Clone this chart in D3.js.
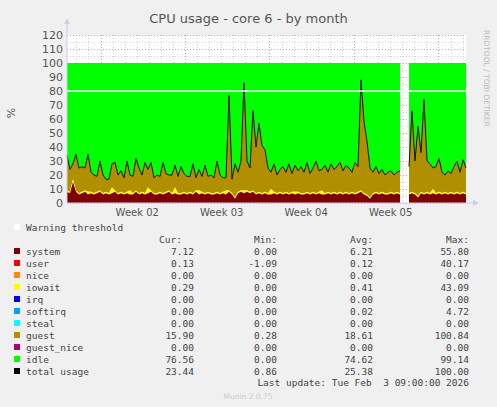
<!DOCTYPE html>
<html><head><meta charset="utf-8">
<script src="https://d3js.org/d3.v7.min.js"></script>
<style>body{margin:0;background:#f0f0f0}svg{display:block}</style>
</head><body>
<script>
const total = [34,24,28,35,25,26,25,35,22,20, 19,30,20,17,17,28,29,20,23,18, 30,20,19,32,25,20,29,24,29,18,
 20,19,29,21,20,20,27,19,26,21, 19,19,28,18,24,19,27,19,20,18, 30,20,18,18,77,17,28,22,30,86,
 30,25,66,40,57,41,38,25,22,28, 20,24,26,22,28,21,27,23,26,22, 29,21,25,30,23,24,27,22,28,24,
 26,29,23,27,25,22,29,26,88,58, 44,25,22,26,21,24,20,22,23,20, 22,23,null,null,26,66,30,55,36,74,
 30,28,25,26,32,22,20,23,21,26, 30,22,31,25];
const system = [8,7,15,8,6,7,8,6,7,6, 7,8,6,7,6,7,8,6,7,6, 7,6,6,8,6,7,6,7,8,6, 6,7,6,7,8,6,7,6,6,7,
 6,7,6,8,6,7,6,7,6,6, 7,6,7,6,8,6,3,7,8,7, 8,7,8,6,7,6,7,6,6,7, 6,7,6,7,6,7,6,7,6,6,
 7,6,7,6,7,6,6,7,6,7, 6,7,6,7,6,7,6,7,8,6, 5,3,6,7,6,7,6,6,7,6, 7,6,null,null,6,7,6,4,7,6,
 7,6,7,6,7,6,7,6,7,6, 7,6,7,6];
const iowait = [1,1,2,1,1,1,1,2,1,1, 1,1,1,1,1,4,1,1,1,1, 1,3,1,1,1,1,1,4,1,1, 1,1,1,1,1,1,4,1,1,1,
 1,1,1,1,3,1,1,1,1,1, 1,1,1,3,1,1,1,1,1,2, 1,1,1,1,1,1,1,1,4,1, 1,1,1,1,1,1,2,1,1,1,
 1,1,1,1,1,3,1,1,1,1, 1,1,1,1,1,1,1,1,1,1, 1,1,1,1,1,1,1,1,1,1, 1,1,null,null,1,1,1,1,1,1,
 1,1,3,1,1,1,1,1,1,1, 1,1,1,1];
const yTicks = [0,10,20,30,40,50,60,70,80,90,100,110,120];
const weekLabels = ["Week 02","Week 03","Week 04","Week 05"];
const legendNames = ["system","user","nice","iowait","irq","softirq","steal","guest","guest_nice","idle","total usage"];
const legendColors = ["#7e0000","#ff0000","#ff8c00","#ffff00","#0000ff","#00a0ff","#00ffff","#b09000","#b00070","#00ff00","#000000"];
const curVals = ["7.12","0.13","0.00","0.29","0.00","0.00","0.00","15.90","0.00","76.56","23.44"];
const minVals = ["0.00","-1.09","0.00","0.00","0.00","0.00","0.00","0.28","0.00","0.00","0.86"];
const avgVals = ["6.21","0.12","0.00","0.41","0.00","0.02","0.00","18.61","0.00","74.62","25.38"];
const maxVals = ["55.80","40.17","0.00","43.09","0.00","4.72","0.00","100.84","0.00","99.14","100.00"];

const W=497,H=407, L=67,R=466,T=35,B=203;
const svg=d3.select("body").append("svg").attr("width",W).attr("height",H);
svg.append("rect").attr("width",W).attr("height",H).attr("fill","#f0f0f0");
const t0=new Date(2026,0,2,4,20), t1=new Date(2026,1,4,5,45);
const x=d3.scaleTime().domain([t0,t1]).range([L,R]);
const y=d3.scaleLinear().domain([0,120]).range([B,T]);
const step=(t1-t0)/(total.length-1);
const data=total.map((v,i)=>({t:new Date(+t0+i*step),tot:v,sys:system[i],io:iowait[i]}));
svg.append("rect").attr("x",L).attr("y",T).attr("width",R-L).attr("height",B-T).attr("fill","#fff");
const days=d3.timeDay.range(d3.timeDay.ceil(t0),t1);
days.forEach(d=>{const mj=d.getDay()===1;svg.append("line").attr("x1",x(d)).attr("x2",x(d)).attr("y1",T).attr("y2",B)
 .attr("stroke",mj?"#e0a0a0":"#d0d0d0").attr("stroke-dasharray","1,2").attr("shape-rendering","crispEdges");});
d3.range(0,121,5).forEach(v=>{svg.append("line").attr("x1",L).attr("x2",R).attr("y1",y(v)).attr("y2",y(v))
 .attr("stroke",v%10===0?"#e0a0a0":"#d0d0d0").attr("stroke-dasharray","1,2").attr("shape-rendering","crispEdges");});
const def=d=>d.tot!==null;
const area=(lo,hi)=>d3.area().defined(def).x(d=>x(d.t)).y0(d=>y(lo(d))).y1(d=>y(hi(d)));
svg.append("path").datum(data).attr("fill","#00ff00").attr("d",area(d=>d.tot,d=>100));
svg.append("path").datum(data).attr("fill","#b09000").attr("d",area(d=>d.sys+d.io,d=>d.tot));
svg.append("path").datum(data).attr("fill","#ffff00").attr("d",area(d=>d.sys,d=>d.sys+d.io));
svg.append("path").datum(data).attr("fill","#7e0000").attr("d",area(d=>0,d=>d.sys));
svg.append("path").datum(data).attr("fill","none").attr("stroke","#000").attr("stroke-width",0.9)
 .attr("d",d3.line().defined(def).x(d=>x(d.t)).y(d=>y(d.tot)));
svg.append("line").attr("x1",L).attr("x2",R).attr("y1",y(80)).attr("y2",y(80)).attr("stroke","#fff").attr("stroke-width",1.5);
svg.append("line").attr("x1",L).attr("x2",L).attr("y1",B).attr("y2",T-12).attr("stroke","#c8d0f0");
svg.append("path").attr("d",`M${L-3},${T-11}L${L},${T-17}L${L+3},${T-11}Z`).attr("fill","#c8d0f0");
svg.append("line").attr("x1",L).attr("x2",R+8).attr("y1",B).attr("y2",B).attr("stroke","#c8d0f0");
svg.append("path").attr("d",`M${R+7},${B-3}L${R+13},${B}L${R+7},${B+3}Z`).attr("fill","#c8d0f0");
const ax=svg.append("g").attr("font-family","DejaVu Sans").attr("font-size",11).attr("fill","#555");
yTicks.forEach(v=>ax.append("text").attr("x",L-4).attr("y",y(v)+4).attr("text-anchor","end").text(v));
const mondays=d3.timeMonday.range(t0,t1).slice(0,4);
weekLabels.forEach((w,i)=>ax.append("text").attr("x",x(d3.timeDay.offset(mondays[i],3.5))).attr("y",B+13).attr("text-anchor","middle").attr("font-size",10).text(w));
svg.append("text").attr("x",W/2).attr("y",23).attr("text-anchor","middle").attr("font-family","DejaVu Sans").attr("font-size",13).attr("fill","#555").text("CPU usage - core 6 - by month");
svg.append("text").attr("transform","translate(15,113) rotate(-90)").attr("text-anchor","middle").attr("font-family","DejaVu Sans").attr("font-size",11).attr("fill","#555").text("%");
svg.append("text").attr("transform","translate(484,30) rotate(90)").attr("font-family","DejaVu Sans").attr("font-size",7.5).attr("fill","#bbb").text("RRDTOOL / TOBI OETIKER");
const lg=svg.append("g").attr("font-family","DejaVu Sans Mono").attr("font-size",9.5).attr("fill","#444");
lg.append("rect").attr("x",14).attr("y",224).attr("width",6).attr("height",6).attr("fill","#fff");
lg.append("text").attr("x",26).attr("y",231).text("Warning threshold");
[["Cur:",182],["Min:",277],["Avg:",373],["Max:",469]].forEach(([s,xx])=>lg.append("text").attr("x",xx).attr("y",243).attr("text-anchor","end").text(s));
legendNames.forEach((n,i)=>{const yy=255+i*12;
 lg.append("rect").attr("x",14).attr("y",yy-7).attr("width",6).attr("height",6).attr("fill",legendColors[i]);
 lg.append("text").attr("x",26).attr("y",yy).text(n);
 [[curVals,194],[minVals,277],[avgVals,373],[maxVals,469]].forEach(([a,xx])=>lg.append("text").attr("x",xx).attr("y",yy).attr("text-anchor","end").text(a[i]));
});
lg.append("text").attr("x",469).attr("y",386).attr("text-anchor","end").attr("xml:space","preserve").text("Last update: Tue Feb  3 09:00:00 2026");
svg.append("text").attr("x",248).attr("y",399).attr("text-anchor","middle").attr("font-family","DejaVu Sans").attr("font-size",7.5).attr("fill","#ccc").text("Munin 2.0.75");
</script></body></html>
